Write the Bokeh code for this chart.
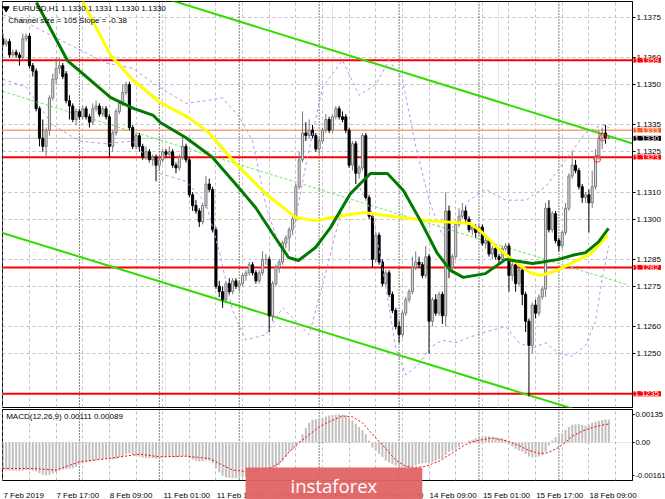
from bokeh.plotting import figure
from bokeh.models import (Range1d, FixedTicker, Span, Label, Grid, ColumnDataSource,
                          PrintfTickFormatter, CustomJSTickFormatter)
from bokeh.layouts import column
from bokeh.embed import file_html
from bokeh.resources import INLINE

# ---------------- data (EURUSD H1, prices stored as pips above 1.1000) ----------------
BASE = 1.1
bars = list(range(1, 184))  # hourly bars from 7 Feb 2019 01:00

open_pips = [
367,365,366,361,362,361,360,367,368,357,
355,341,330,327,333,345,352,356,357,354,
344,342,337,340,338,341,338,336,341,342,
339,341,338,327,332,340,343,347,350,334,
327,331,327,323,325,322,323,320,322,325,
324,325,320,319,323,327,322,309,305,303,
299,305,313,311,296,275,273,270,276,273,
277,275,276,279,280,283,280,277,280,285,
285,264,276,282,284,291,293,296,300,312,
322,332,331,333,331,326,329,333,337,333,
338,341,338,338,333,320,328,317,319,331,
308,301,285,294,284,276,280,272,266,260,
257,265,270,273,282,284,283,279,286,262,
270,265,272,264,303,282,286,298,301,303,
300,296,297,295,297,291,292,287,289,286,
285,289,290,279,283,276,281,272,262,253,
268,265,271,274,304,296,302,292,290,295,
304,316,320,318,312,308,309,306,312,323,
330,332,330]
close_pips = [
365,366,361,362,361,360,367,368,357,355,
341,330,327,333,345,352,356,357,353,344,
342,337,340,338,341,338,336,341,342,339,
341,338,327,332,340,343,347,350,334,327,
331,327,323,325,322,323,320,322,325,324,
325,320,319,323,327,322,309,305,303,299,
305,313,311,296,275,273,270,276,273,277,
275,276,279,280,283,280,277,280,285,285,
264,276,282,284,291,293,296,300,312,322,
332,331,333,331,326,329,333,337,333,338,
341,338,337,333,320,328,317,319,331,308,
301,285,294,284,276,280,272,266,260,257,
265,270,273,282,284,283,279,286,262,270,
265,272,264,303,282,286,298,301,303,300,
296,297,295,297,291,292,287,289,286,285,
289,290,279,283,276,281,272,262,253,268,
265,271,274,304,296,302,292,290,295,304,
316,320,318,312,308,309,306,312,323,330,
332,330,330]
high_pips = [
369,367,367,363,363,362,369,369,369,358,
356,342,337,334,346,354,360,360,358,355,
346,343,341,341,342,342,339,343,344,343,
342,342,339,333,341,344,350,351,351,335,
332,332,328,327,326,324,324,323,326,326,
327,326,321,324,331,328,323,310,307,304,
306,316,315,312,297,277,275,277,278,278,
278,277,280,281,284,284,281,281,288,287,
286,277,283,285,292,294,297,301,313,325,
340,336,337,335,332,330,334,339,338,339,
342,342,340,339,334,329,329,320,332,332,
309,302,295,295,285,281,281,273,267,262,
266,271,274,286,288,286,284,290,287,271,
272,273,273,310,305,287,299,304,306,305,
301,298,298,298,298,293,293,290,290,287,
290,291,291,285,284,282,282,273,263,269,
270,272,275,306,307,303,303,293,296,306,
317,325,322,319,313,310,311,318,326,333,
334,335,331]
low_pips = [
364,364,360,360,360,357,359,366,356,353,
340,327,325,323,331,344,350,354,352,343,
337,336,335,337,337,337,334,335,340,338,
338,337,323,325,331,339,342,346,333,326,
326,325,322,322,321,320,314,318,321,323,
323,319,317,318,322,321,308,303,302,297,
298,304,310,295,274,271,267,269,272,272,
274,273,275,277,279,279,276,276,279,283,
258,262,275,280,283,289,288,294,299,311,
321,329,330,330,325,324,328,332,332,332,
337,337,336,332,319,318,313,315,318,307,
300,282,284,283,275,275,271,265,259,254,
256,264,269,272,281,282,278,278,250,260,
264,264,261,260,278,280,285,297,300,299,
295,294,293,294,290,289,286,285,285,283,
284,288,273,277,273,275,268,258,234,250,
263,264,270,271,295,295,291,288,289,294,
303,315,317,311,306,306,295,304,311,322,
326,328,330]

# moving averages (bar position, pips)
ma_slow_bar = [24.9, 33.3, 40.2, 48.3, 56.8, 62.8, 70.9, 79.9, 88.9, 94.9, 103.3, 109.3, 118.3,
               128.5, 141.4, 144.5, 149.5, 154.3, 159.4, 162.5, 167.6, 171.5, 177.5, 182.6]
ma_slow_pips = [381, 361, 351.5, 343.3, 337.7, 332.2, 320.6, 309.5, 300.6, 299.4, 301.3, 302.4, 300.9,
                299.4, 298.3, 295.5, 289.4, 284.6, 280, 279, 280.9, 283.5, 287, 294]
ma_fast_bar = [11.1, 20.4, 26.4, 33.3, 40.2, 46.2, 48.3, 55.9, 64.0, 71.8, 76.9, 82.0, 86.8, 89.8,
               94.9, 99.4, 105.4, 111.4, 116.5, 121.3, 126.4, 131.5, 135.4, 139.3, 145.9, 152.0,
               160.1, 163.1, 167.9, 172.1, 176.0, 179.9, 182.9]
ma_fast_pips = [380.5, 358.9, 352.6, 345.2, 341.1, 338.5, 335.9, 330.3, 322.9, 311.7, 304.3, 294.6,
                285.7, 284.6, 289.4, 296.8, 309.5, 316.9, 316.9, 310.6, 299.4, 287.2, 280.9, 278.3,
                279.7, 285.0, 283.5, 284.0, 285.0, 286.5, 287.5, 291.5, 296.5]

# bands (bar position, pips)
band_up_bar = [1, 8, 16, 24, 32, 40, 48, 56, 62, 67, 72, 76, 80, 84, 88, 92, 97, 103, 108, 113,
               117, 121, 125, 129, 133, 137, 141, 146, 152, 158, 164, 170, 176, 181, 183]
band_up_pips = [376, 373, 368, 363, 358, 356, 349, 343, 344, 345, 338, 329, 305, 290, 294, 320, 349,
                359, 346, 350, 359, 352, 327, 307, 294, 298, 307, 311, 307, 307, 312, 322, 332, 335, 334]
band_lo_bar = [1, 8, 16, 24, 32, 40, 48, 56, 62, 66, 70, 74, 80, 85, 89, 93, 98, 103, 108, 112,
               116, 119, 122, 126, 129, 133, 137, 141, 146, 152, 156, 160, 164, 168, 172, 176, 179, 181, 183]
band_lo_pips = [352, 349, 335, 329, 328, 329, 317, 314, 306, 288, 266, 255, 257, 267, 262, 257, 280,
                305, 312, 302, 275, 252, 242, 246, 252, 255, 254, 256, 258, 260, 254, 252, 254, 250,
                249, 253, 262, 278, 290]

# regression channel (bar position, price)
chan_up_bar = [50.0, 190.1]
chan_up_price = [1.13819, 1.13281]
chan_mid_bar = [0.9, 188.9]
chan_mid_price = [1.13475, 1.12754]
chan_lo_bar = [0.9, 175.0]
chan_lo_price = [1.12948, 1.12284]

# horizontal levels
red_levels = [1.1359, 1.1323, 1.1282, 1.1235]
ask_level = 1.1333
bid_level = 1.1330
price_ticks = [1.1235, 1.1250, 1.1260, 1.1275, 1.1285, 1.1300, 1.1310, 1.1325, 1.1335, 1.1350, 1.1360, 1.1375]

# alert markers
alert_bar = [179.5, 181.2]
alert_price = [1.13224, 1.13304]

# MACD(12,26,9) in units of 1e-5
macd_hist = [
-132,-134,-135,-136,-136,-137,-135,-132,-133,-136,
-140,-148,-155,-158,-156,-150,-142,-135,-130,-128,
-126,-124,-118,-108,-100,-95,-92,-88,-85,-82,
-80,-78,-80,-82,-78,-72,-65,-55,-52,-60,
-65,-68,-72,-74,-75,-76,-78,-77,-73,-70,
-68,-70,-72,-70,-66,-68,-75,-82,-88,-92,
-90,-85,-88,-100,-125,-145,-160,-168,-170,-172,
-172,-170,-168,-165,-160,-155,-150,-145,-138,-130,
-140,-135,-125,-110,-90,-70,-45,-35,-20,5,
40,70,95,110,112,115,118,125,130,132,
135,136,134,130,118,105,90,75,60,40,
10,-25,-40,-55,-70,-88,-98,-105,-112,-118,
-120,-122,-120,-115,-110,-105,-100,-98,-100,-95,
-88,-80,-75,-60,-45,-38,-30,-20,-10,0,
10,15,20,25,28,30,30,28,25,22,
20,15,-10,-20,-30,-38,-45,-55,-68,-72,
-72,-68,-62,-45,-15,10,25,35,45,60,
75,85,88,88,85,82,85,95,100,105,
108,111,111]
signal_bar = [1, 10, 17, 24, 33, 42, 48, 56, 63, 70, 74, 80, 84, 87, 90, 96, 99, 103, 106, 109,
              112, 116, 119, 122, 125, 128, 132, 136, 140, 143, 148, 153, 156, 159, 162, 164, 166,
              168, 170, 172, 175, 178, 181, 183]
signal_val = [-125, -125, -133, -93, -77, -56, -69, -66, -77, -133, -140, -132, -100, -45, 0, 75, 100,
              128, 124, 95, 40, -30, -85, -115, -120, -115, -90, -50, -10, 8, 22, 5, -15, -38, -52,
              -52, -40, -22, 0, 30, 55, 72, 84, 89]
macd_ticks = [-0.00161, 0.0, 0.00135]
macd_tick_labels = ["-0.00161", "0.00", "0.00135"]

# time axis
date_label_bar = [1, 17, 33, 49, 65, 81, 97, 113, 129, 145, 161, 177]
date_labels = ["7 Feb 2019", "7 Feb 17:00", "8 Feb 09:00", "11 Feb 01:00", "11 Feb 17:00",
               "12 Feb 09:00", "13 Feb 01:00", "13 Feb 17:00", "14 Feb 09:00", "15 Feb 01:00",
               "15 Feb 17:00", "18 Feb 09:00"]
day_starts = [24, 48, 72, 96, 120, 144, 168]
grid_bars = [1 + 8 * k for k in range(24)]

# ---------------- drawing ----------------
FONT = "Liberation Sans"
to_price = lambda arr: [BASE + v / 10000.0 for v in arr]
o, h, l, c = to_price(open_pips), to_price(high_pips), to_price(low_pips), to_price(close_pips)

up = [i for i in range(len(bars)) if c[i] >= o[i]]
dn = [i for i in range(len(bars)) if c[i] < o[i]]
src_up = ColumnDataSource(dict(x=[bars[i] for i in up], top=[c[i] for i in up], bottom=[o[i] for i in up],
                               high=[h[i] for i in up], low=[l[i] for i in up]))
src_dn = ColumnDataSource(dict(x=[bars[i] for i in dn], top=[o[i] for i in dn], bottom=[c[i] for i in dn],
                               high=[h[i] for i in dn], low=[l[i] for i in dn]))

xr = Range1d(0.9, 190.1)
FW = 630

p = figure(frame_width=FW, frame_height=406, x_range=xr, y_range=Range1d(1.122993, 1.138086),
           toolbar_location=None, output_backend="svg", y_axis_location="right", x_axis_location=None,
           min_border_left=2, min_border_top=1, min_border_bottom=1, min_border_right=33)
p.background_fill_color = "white"
p.border_fill_color = "white"
p.outline_line_color = "black"
p.outline_line_width = 1

p.yaxis.ticker = FixedTicker(ticks=price_ticks)
p.yaxis.formatter = PrintfTickFormatter(format="%.4f")
p.yaxis.major_label_text_font = FONT
p.yaxis.major_label_text_font_size = "8px"
p.yaxis.major_label_text_color = "black"
p.yaxis.major_tick_out = 3
p.yaxis.major_tick_in = 0
p.yaxis.major_label_standoff = 1
p.yaxis.axis_line_color = "black"
p.ygrid.grid_line_color = "#c0c0c0"
p.ygrid.grid_line_dash = "3 3"
p.add_layout(Grid(dimension=0, ticker=FixedTicker(ticks=grid_bars), grid_line_color="#c0c0c0",
                  grid_line_dash="3 3"))
for d in day_starts:
    p.add_layout(Span(location=d, dimension="height", line_color="black", line_dash="1 2",
                      line_width=1, level="underlay"))

for lv in red_levels:
    p.add_layout(Span(location=lv, dimension="width", line_color="#ff0000", line_width=2, level="underlay"))
p.add_layout(Span(location=ask_level, dimension="width", line_color="#f8a27e", line_width=1.5, level="underlay"))
p.add_layout(Span(location=bid_level, dimension="width", line_color="#c0c0c0", line_width=1, level="underlay"))

# channel
p.line(chan_up_bar, chan_up_price, line_color="#33dd00", line_width=2)
p.line(chan_lo_bar, chan_lo_price, line_color="#33dd00", line_width=2)
p.line(chan_mid_bar, chan_mid_price, line_color="#66ee55", line_width=1, line_dash="3 2")

# candles
p.segment(x0="x", y0="low", x1="x", y1="high", source=src_up, line_color="#7a7a7a", line_width=1)
p.vbar(x="x", width=0.62, top="top", bottom="bottom", source=src_up, fill_color="#dcdcdc",
       line_color="#7a7a7a", line_width=1)
p.segment(x0="x", y0="low", x1="x", y1="high", source=src_dn, line_color="black", line_width=1)
p.vbar(x="x", width=0.62, top="top", bottom="bottom", source=src_dn, fill_color="black",
       line_color="black", line_width=1)

# bands and moving averages
p.line(band_up_bar, to_price(band_up_pips), line_color="#c68cf0", line_width=1, line_dash="3 3")
p.line(band_lo_bar, to_price(band_lo_pips), line_color="#c68cf0", line_width=1, line_dash="3 3")
p.line(ma_slow_bar, to_price(ma_slow_pips), line_color="#ffff00", line_width=3)
p.line(ma_fast_bar, to_price(ma_fast_pips), line_color="#007a00", line_width=3)

p.scatter(alert_bar, alert_price, marker="circle", size=7, fill_color=None, line_color="#ff3030",
          line_width=1)

# header texts
p.scatter([2.0], [1.137825], marker="inverted_triangle", size=6, fill_color="black", line_color="black")
p.add_layout(Label(x=4.0, y=1.137825, text="EURUSD,H1  1.1330 1.1331 1.1330 1.1330", text_font=FONT,
                   text_font_size="8px", text_baseline="middle", text_align="left", text_color="black"))
p.add_layout(Label(x=2.6, y=1.13738, text="Channel size = 105  Slope = -0.38", text_font=FONT,
                   text_font_size="8px", text_baseline="middle", text_align="left", text_color="black"))

# price tags on the right (placed in the right side panel so they are not clipped to the frame)
def tag(fig, y, txt, bg):
    fig.add_layout(Label(x=190.4, y=y, text=txt, text_font=FONT, text_font_size="8px",
                         text_baseline="middle", text_align="left", text_color="white",
                         background_fill_color=bg,
                         padding=dict(left=1, right=2, top=0, bottom=0)), "right")
for lv in red_levels:
    tag(p, lv, "%.4f" % lv, "#ff0000")
tag(p, ask_level, "%.4f" % ask_level, "#ff5a1e")
tag(p, bid_level, "%.4f" % bid_level, "black")

# ---------------- MACD panel ----------------
p2 = figure(frame_width=FW, frame_height=71, x_range=xr, y_range=Range1d(-0.001832, 0.001591),
            toolbar_location=None, output_backend="svg", y_axis_location="right",
            min_border_left=2, min_border_top=1, min_border_bottom=19, min_border_right=33)
p2.background_fill_color = "white"
p2.border_fill_color = "white"
p2.outline_line_color = "black"
p2.ygrid.visible = False
p2.xgrid.ticker = FixedTicker(ticks=grid_bars)
p2.xgrid.grid_line_color = "#c0c0c0"
p2.xgrid.grid_line_dash = "3 3"
for d in day_starts:
    p2.add_layout(Span(location=d, dimension="height", line_color="black", line_dash="1 2",
                       line_width=1, level="underlay"))
p2.add_layout(Span(location=0, dimension="width", line_color="#b0b0b0", line_dash="1 2",
                   line_width=1, level="underlay"))

p2.vbar(x=bars, width=0.6, top=[v / 1e5 for v in macd_hist], bottom=0, fill_color="#c0c0c0",
        line_color=None)
p2.line(signal_bar, [v / 1e5 for v in signal_val], line_color="#ff0000", line_width=1, line_dash="2 2")

p2.yaxis.ticker = FixedTicker(ticks=macd_ticks)
p2.yaxis.formatter = CustomJSTickFormatter(args=dict(labels=macd_tick_labels),
                                           code="return labels[index];")
p2.yaxis.major_label_text_font = FONT
p2.yaxis.major_label_text_font_size = "7.6px"
p2.yaxis.major_label_text_color = "black"
p2.yaxis.major_tick_out = 2
p2.yaxis.major_tick_in = 0
p2.yaxis.major_label_standoff = 1
p2.yaxis.axis_line_color = "black"

label_offsets = [6.25 if len(s) <= 10 else (6.5 if len(s) == 11 else 7.25) for s in date_labels]
p2.xaxis.ticker = FixedTicker(ticks=[b + off for b, off in zip(date_label_bar, label_offsets)])
p2.xaxis.formatter = CustomJSTickFormatter(args=dict(labels=date_labels), code="return labels[index];")
p2.xaxis.major_label_text_font = FONT
p2.xaxis.major_label_text_font_size = "8px"
p2.xaxis.major_label_text_color = "black"
p2.xaxis.major_tick_line_color = None
p2.xaxis.minor_tick_line_color = None
p2.xaxis.axis_line_color = None
p2.xaxis.major_label_standoff = 4

p2.add_layout(Label(x=2.0, y=0.001254, text="MACD(12,26,9) 0.00111 0.00089", text_font=FONT,
                    text_font_size="8px", text_baseline="middle", text_align="left", text_color="black"))

# watermark (in the lower side panel so it can overlap the time axis)
p2.add_layout(Label(x=73.9, y=-0.001205, text="instaforex", text_font="Open Sans",
                    text_font_size="18.5px", text_baseline="top", text_align="left",
                    text_color="white", background_fill_color="#e06464", background_fill_alpha=0.95,
                    padding=dict(left=45, right=45, top=6, bottom=12)), "below")

layout = column(p, p2, spacing=0)
open("out.html", "w").write(file_html(layout, INLINE))
